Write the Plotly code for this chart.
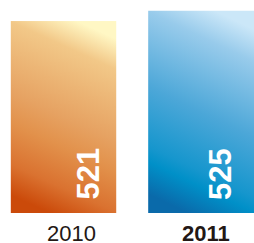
import base64
import plotly.graph_objects as go

# ---- data ----
years = ["2010", "2011"]
values = [521, 525]
year_labels = ["2010", "<b>2011</b>"]

# ---- style ----
Y_MIN, Y_MAX = 448, 529
BAR_W = 0.77
gradients = [
    [(0.0, "#CB4A0A"), (0.15, "#DA7230"), (0.35, "#E2914B"), (0.5, "#E6A262"),
     (0.85, "#F2C888"), (1.0, "#FFF7C4")],
    [(0.0, "#0A6AAA"), (0.15, "#0090C8"), (0.22, "#1696CD"), (0.5, "#4CA7D8"),
     (0.85, "#98CBEB"), (1.0, "#CBE7F8")],
]
value_xshift = [24, 19]
label_xshift = [8, 5]


def grad_svg(stops):
    s = "".join(f'<stop offset="{o}" stop-color="{c}"/>' for o, c in stops)
    svg = (
        '<svg xmlns="http://www.w3.org/2000/svg" width="100" height="200" '
        'viewBox="0 0 100 200" preserveAspectRatio="none">'
        '<defs><linearGradient id="g" x1="0.375" y1="1" x2="0.625" y2="0">'
        + s + '</linearGradient></defs>'
        '<rect x="0" y="0" width="100" height="200" fill="url(#g)"/></svg>'
    )
    return "data:image/svg+xml;base64," + base64.b64encode(svg.encode()).decode()


fig = go.Figure()
fig.add_trace(go.Bar(
    x=list(range(len(years))), y=values, width=BAR_W,
    marker=dict(color="rgba(0,0,0,0)", line=dict(width=0)),
    hovertext=years, hoverinfo="text+y",
))

images = []
annotations = []
for i, v in enumerate(values):
    images.append(dict(
        source=grad_svg(gradients[i]), xref="x", yref="y",
        x=i - BAR_W / 2, y=v, sizex=BAR_W, sizey=v - Y_MIN,
        sizing="stretch", xanchor="left", yanchor="top", layer="below",
    ))
    annotations.append(dict(
        x=i, xref="x", y=0, yref="paper", text=f"<b>{v}</b>",
        textangle=-90, showarrow=False, xanchor="center", yanchor="bottom",
        xshift=value_xshift[i], yshift=11,
        font=dict(family="Liberation Sans, Arial, sans-serif", size=31, color="white"),
    ))
    annotations.append(dict(
        x=i, xref="x", y=0, yref="paper", text=year_labels[i],
        showarrow=False, xanchor="center", yanchor="top",
        xshift=label_xshift[i], yshift=-7, borderpad=0,
        font=dict(family="Liberation Sans, Arial, sans-serif", size=22, color="#231815"),
    ))

fig.update_layout(
    width=254, height=243,
    margin=dict(l=0, r=0, t=0, b=30),
    paper_bgcolor="white", plot_bgcolor="white",
    showlegend=False,
    images=images, annotations=annotations,
    xaxis=dict(range=[-0.4618, 1.385], showticklabels=False, showgrid=False,
               zeroline=False, showline=False, ticks=""),
    yaxis=dict(range=[Y_MIN, Y_MAX], visible=False),
)

fig.write_html(
    "out.html",
    config={"displayModeBar": False},
    post_script="document.body.style.margin='0';document.body.style.overflow='hidden';",
)
